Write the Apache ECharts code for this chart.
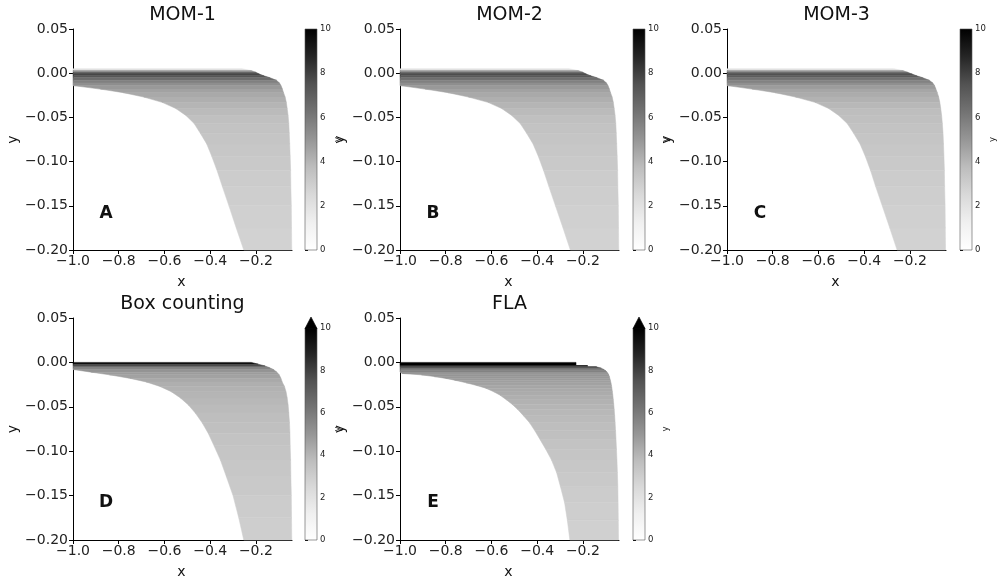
<!DOCTYPE html>
<html>
<head>
<meta charset="utf-8">
<script src="https://cdn.jsdelivr.net/npm/echarts@6/dist/echarts.min.js"></script>
<style>
  html, body { margin: 0; padding: 0; background: #fff; }
  #main { width: 1001px; height: 580px; }
</style>
</head>
<body>
<div id="main"></div>
<script>
// panel titles / letters
var titles = ['MOM-1', 'MOM-2', 'MOM-3', 'Box counting', 'FLA'];
var letters = ['A', 'B', 'C', 'D', 'E'];

// tick labels
var xTicks = [-1.0, -0.8, -0.6, -0.4, -0.2];
var cbTicks = [0, 2, 4, 6, 8, 10];

// MOM panels: y edges of the rows, left / right ends at each edge, value of each row
var yMom = [0.005, 0.003, 0.001, -0.001, -0.003, -0.005, -0.008, -0.011, -0.014, -0.018, -0.022, -0.027, -0.033, -0.040, -0.048, -0.057, -0.068, -0.080, -0.094, -0.110, -0.128, -0.150, -0.175, -0.200];

var leftMom1  = [-1, -1, -1, -1, -1, -1, -1, -1, -1, -0.88, -0.78, -0.69, -0.61, -0.55, -0.505, -0.47, -0.443, -0.415, -0.393, -0.37, -0.347, -0.318, -0.286, -0.253];
var rightMom1 = [-0.26, -0.22, -0.2, -0.185, -0.165, -0.14, -0.11, -0.097, -0.09, -0.084, -0.079, -0.072, -0.067, -0.063, -0.059, -0.056, -0.054, -0.052, -0.05, -0.048, -0.047, -0.045, -0.044, -0.043];
var valMom1   = [2, 5, 7.3, 7.8, 7.3, 6.5, 5.8, 5.3, 4.9, 4.6, 4.4, 4.2, 4.0, 3.8, 3.6, 3.5, 3.4, 3.3, 3.2, 3.1, 3.0, 2.9, 2.8];

var leftMom2  = [-1, -1, -1, -1, -1, -1, -1, -1, -1, -0.89, -0.79, -0.70, -0.615, -0.555, -0.51, -0.474, -0.446, -0.418, -0.395, -0.372, -0.349, -0.32, -0.287, -0.255];
var rightMom2 = [-0.26, -0.22, -0.2, -0.185, -0.165, -0.14, -0.11, -0.097, -0.09, -0.084, -0.079, -0.072, -0.067, -0.063, -0.059, -0.056, -0.054, -0.052, -0.05, -0.048, -0.047, -0.045, -0.044, -0.043];
var valMom2   = [2, 5, 7.1, 7.6, 7.2, 6.4, 5.8, 5.3, 4.9, 4.6, 4.4, 4.2, 4.0, 3.8, 3.6, 3.5, 3.4, 3.3, 3.2, 3.1, 3.0, 2.9, 2.8];

var leftMom3  = [-1, -1, -1, -1, -1, -1, -1, -1, -1, -0.89, -0.79, -0.70, -0.615, -0.555, -0.51, -0.474, -0.446, -0.418, -0.395, -0.372, -0.35, -0.321, -0.288, -0.256];
var rightMom3 = [-0.27, -0.23, -0.21, -0.19, -0.17, -0.145, -0.115, -0.1, -0.092, -0.086, -0.08, -0.074, -0.069, -0.065, -0.061, -0.058, -0.055, -0.053, -0.051, -0.049, -0.048, -0.046, -0.045, -0.044];
var valMom3   = [2, 5, 7.0, 7.5, 7.1, 6.3, 5.7, 5.2, 4.8, 4.5, 4.3, 4.1, 3.9, 3.7, 3.6, 3.5, 3.4, 3.3, 3.2, 3.1, 3.0, 2.9, 2.8];

// Box counting
var yBox     = [0.000, -0.002, -0.004, -0.006, -0.008, -0.011, -0.014, -0.018, -0.022, -0.027, -0.033, -0.040, -0.048, -0.057, -0.068, -0.080, -0.094, -0.110, -0.128, -0.150, -0.175, -0.200];
var leftBox  = [-1, -1, -1, -1, -1, -0.92, -0.84, -0.75, -0.68, -0.62, -0.57, -0.53, -0.495, -0.465, -0.435, -0.408, -0.383, -0.355, -0.33, -0.3, -0.275, -0.253];
var rightBox = [-0.22, -0.19, -0.16, -0.14, -0.123, -0.108, -0.098, -0.09, -0.085, -0.075, -0.068, -0.063, -0.059, -0.056, -0.053, -0.051, -0.05, -0.048, -0.047, -0.045, -0.044, -0.043];
var valBox   = [9.8, 8, 6.5, 5.6, 5.1, 4.8, 4.6, 4.4, 4.2, 4.1, 4.0, 3.9, 3.8, 3.7, 3.6, 3.5, 3.4, 3.3, 3.2, 3.1, 3.0];

// FLA: repeated edges keep the stepped ends of the top rows
var yFla     = [0.000, -0.0035, -0.0035, -0.005, -0.005, -0.0065, -0.008, -0.0095, -0.011, -0.0125, -0.014, -0.016, -0.018, -0.020, -0.023, -0.026, -0.029, -0.033, -0.037, -0.042, -0.047, -0.053, -0.060, -0.068, -0.077, -0.087, -0.098, -0.110, -0.124, -0.140, -0.158, -0.178, -0.200];
var leftFla  = [-1, -1, -1, -1, -1, -1, -1, -1, -1, -0.99, -0.906, -0.85, -0.80, -0.761, -0.71, -0.665, -0.625, -0.59, -0.562, -0.535, -0.51, -0.485, -0.46, -0.433, -0.41, -0.387, -0.362, -0.337, -0.315, -0.298, -0.28, -0.268, -0.257];
var rightFla = [-0.23, -0.23, -0.18, -0.18, -0.14, -0.12, -0.108, -0.1, -0.094, -0.09, -0.087, -0.084, -0.082, -0.08, -0.077, -0.075, -0.073, -0.071, -0.069, -0.067, -0.065, -0.063, -0.061, -0.059, -0.057, -0.055, -0.053, -0.051, -0.049, -0.047, -0.046, -0.045, -0.044];
var valFla   = [10, 10, 8.5, 8.5, 7.4, 6.7, 6.1, 5.7, 5.4, 5.2, 5.0, 4.9, 4.8, 4.7, 4.6, 4.5, 4.4, 4.3, 4.2, 4.1, 4.0, 3.9, 3.8, 3.7, 3.6, 3.5, 3.4, 3.3, 3.2, 3.1, 3.0, 2.9];

var greys = ['#ffffff', '#f0f0f0', '#d9d9d9', '#bdbdbd', '#969696', '#737373', '#525252', '#252525', '#000000'];

// rows between two edges (trapezoid)
function edgeRows(ys, ls, rs, vs) {
    return vs.map(function (v, i) { return [ls[i], rs[i], ys[i], ls[i + 1], rs[i + 1], ys[i + 1], v]; });
}

var panelData = [
    edgeRows(yMom, leftMom1, rightMom1, valMom1),
    edgeRows(yMom, leftMom2, rightMom2, valMom2),
    edgeRows(yMom, leftMom3, rightMom3, valMom3),
    edgeRows(yBox, leftBox, rightBox, valBox),
    edgeRows(yFla, leftFla, rightFla, valFla)
];
var extended = [false, false, false, true, true];

var mainGrids = [
    {left: 73, top: 29, width: 219, height: 221},
    {left: 400, top: 29, width: 219, height: 221},
    {left: 727, top: 29, width: 219, height: 221},
    {left: 73, top: 318, width: 219, height: 222},
    {left: 400, top: 318, width: 219, height: 222}
];
var cbGrids = [
    {left: 305, top: 29, width: 12, height: 221},
    {left: 633, top: 29, width: 12, height: 221},
    {left: 960, top: 29, width: 12, height: 221},
    {left: 305, top: 328, width: 12, height: 212},
    {left: 633, top: 328, width: 12, height: 212}
];

var FONT = 'DejaVu Sans';
function minus(s) { return s.replace('-', '\u2212'); }

var grid = [], xAxis = [], yAxis = [], series = [], graphic = [];

function label(x, y, text, size, rotate, weight) {
    return {
        type: 'text', x: x, y: y, rotation: rotate ? Math.PI / 2 : 0,
        style: {text: text, fontFamily: FONT, fontSize: size, fontWeight: weight || 'normal', fill: '#111',
            align: 'center', verticalAlign: 'middle'}
    };
}

mainGrids.forEach(function (g, i) {
    grid.push(g);
    xAxis.push({
        type: 'value', gridIndex: i, min: -1, max: -0.042,
        axisLine: {onZero: false, lineStyle: {color: '#000', width: 1}},
        axisTick: {show: true, length: 4, lineStyle: {color: '#000'}, customValues: xTicks},
        axisLabel: {fontFamily: FONT, fontSize: 14, color: '#222', margin: 4, customValues: xTicks,
            formatter: function (v) { return minus(v.toFixed(1)); }},
        splitLine: {show: false}
    });
    yAxis.push({
        type: 'value', gridIndex: i, min: -0.2, max: 0.05, interval: 0.05,
        axisLine: {show: true, onZero: false, lineStyle: {color: '#000', width: 1}},
        axisTick: {show: true, length: 4, lineStyle: {color: '#000'}},
        axisLabel: {fontFamily: FONT, fontSize: 14, color: '#222', margin: 5,
            formatter: function (v) { return minus(v.toFixed(2)); }},
        splitLine: {show: false}
    });
    series.push({
        type: 'custom', xAxisIndex: i, yAxisIndex: i,
        data: panelData[i],
        renderItem: function (params, api) {
            var pts = [
                api.coord([api.value(0), api.value(2)]),
                api.coord([api.value(1), api.value(2)]),
                api.coord([api.value(4), api.value(5)]),
                api.coord([api.value(3), api.value(5)])
            ];
            var c = api.visual('color');
            return {type: 'polygon', shape: {points: pts}, style: {fill: c, stroke: c, lineWidth: 0.5}};
        },
        silent: true
    });
    graphic.push(label(g.left + g.width / 2, g.top - 14, titles[i], 19));
    graphic.push(label(g.left + 33, g.top + 185, letters[i], 17, false, 'bold'));
    graphic.push(label(g.left + g.width / 2 - 1, g.top + g.height + 32, 'x', 14));
    graphic.push(label(g.left - 60, g.top + g.height / 2, 'y', 14, true));
});

cbGrids.forEach(function (g, i) {
    var k = mainGrids.length + i;
    grid.push(g);
    xAxis.push({type: 'value', gridIndex: k, min: 0, max: 1, show: false});
    yAxis.push({
        type: 'value', gridIndex: k, min: 0, max: 10, interval: 2, position: 'right',
        axisLine: {show: false},
        axisTick: {show: true, length: 3, lineStyle: {color: '#000'}, customValues: cbTicks},
        axisLabel: {fontFamily: FONT, fontSize: 8.5, color: '#222', margin: 3, customValues: cbTicks},
        splitLine: {show: false}
    });
    graphic.push(label(g.left + g.width + 21, mainGrids[i].top + mainGrids[i].height / 2, 'y', 8.5, true));
    series.push({
        type: 'custom', xAxisIndex: k, yAxisIndex: k, silent: true,
        data: [[0, 1, 0, 10]],
        renderItem: function (params, api) {
            var tl = api.coord([api.value(0), api.value(3)]);
            var br = api.coord([api.value(1), api.value(2)]);
            var stops = greys.map(function (c, j) { return {offset: 1 - j / (greys.length - 1), color: c}; }).reverse();
            var kids = [{
                type: 'rect',
                shape: {x: tl[0], y: tl[1], width: br[0] - tl[0], height: br[1] - tl[1]},
                style: {fill: new echarts.graphic.LinearGradient(0, 0, 0, 1, stops), stroke: '#555', lineWidth: 0.6}
            }];
            if (extended[i]) {
                kids.push({
                    type: 'polygon',
                    shape: {points: [[tl[0], tl[1] + 0.5], [br[0], tl[1] + 0.5], [(tl[0] + br[0]) / 2, tl[1] - 11]]},
                    style: {fill: '#000', stroke: '#000', lineWidth: 0.6}
                });
            }
            return {type: 'group', children: kids};
        }
    });
});

var chart = echarts.init(document.getElementById('main'), null, {renderer: 'canvas'});
chart.setOption({
    backgroundColor: '#fff',
    animation: false,
    grid: grid,
    xAxis: xAxis,
    yAxis: yAxis,
    visualMap: {
        type: 'continuous', show: false, min: 0, max: 10, dimension: 6,
        seriesIndex: [0, 1, 2, 3, 4],
        inRange: {color: greys}
    },
    series: series,
    graphic: graphic
});
</script>
</body>
</html>
